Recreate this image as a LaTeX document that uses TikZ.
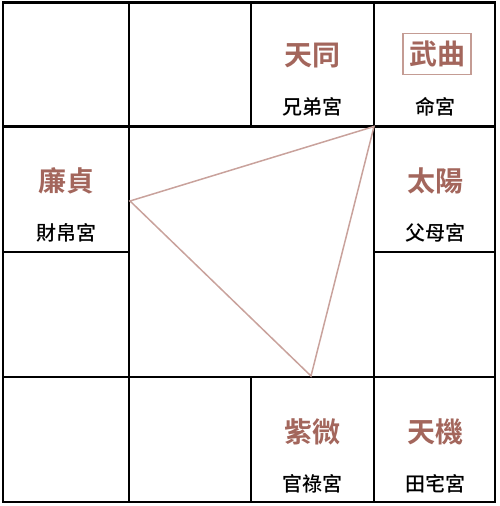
\documentclass[tikz,border=0pt]{standalone}
\usepackage{fontspec}
\newfontfamily\cjk{Noto Sans CJK TC Medium}
\newfontfamily\cjkb{Noto Sans CJK TC Bold}
\begin{document}
\begin{tikzpicture}[x=0.5pt,y=-0.5pt,
  grid/.style={line width=1.3pt,black},
  star/.style={font=\cjkb\fontsize{14}{16}\selectfont,text=starc,inner sep=0pt},
  palace/.style={font=\cjk\fontsize{10}{12}\selectfont,text=black,inner sep=0pt},
  starbox/.style={star,draw=boxc,line width=0.7pt,minimum width=34pt,minimum height=20.5pt},
  tri/.style={draw=tric,line width=0.75pt}]
\definecolor{starc}{HTML}{A3665C}
\definecolor{boxc}{HTML}{C49C94}
\definecolor{tric}{HTML}{C9A29C}
\useasboundingbox (0,0) rectangle (499,506);
% grid
\draw[grid] (3,2.5) rectangle (495,502);
\draw[grid] (129,2.5) -- (129,502);
\draw[grid] (374,2.5) -- (374,502);
\draw[grid] (251,2.5) -- (251,126.5);
\draw[grid] (251,377) -- (251,502);
\draw[grid] (3,126.5) -- (495,126.5);
\draw[grid] (3,377) -- (495,377);
\draw[grid] (3,252) -- (129,252);
\draw[grid] (374,252) -- (495,252);
% stars and palaces
\node[star] (s1) at (312.5,56) {天同};
\node[palace] (p1) at (312.5,107) {兄弟宮};
\node[starbox] (s2) at (437,54) {武曲};
\node[palace] (p2) at (435,107) {命宮};
\node[star] (s3) at (66,181) {廉貞};
\node[palace] (p3) at (66,233) {財帛宮};
\node[star] (s4) at (435,181) {太陽};
\node[palace] (p4) at (435,233) {父母宮};
\node[star] (s5) at (312.5,432) {紫微};
\node[palace] (p5) at (312.5,484) {官祿宮};
\node[star] (s6) at (435,432) {天機};
\node[palace] (p6) at (435,484) {田宅宮};
% triangle
\coordinate (ta) at (374,126.5);
\coordinate (tb) at (130,201);
\coordinate (tc) at (311,376);
\draw[tri] (ta) -- (tb) -- (tc) -- cycle;
\end{tikzpicture}
\end{document}
